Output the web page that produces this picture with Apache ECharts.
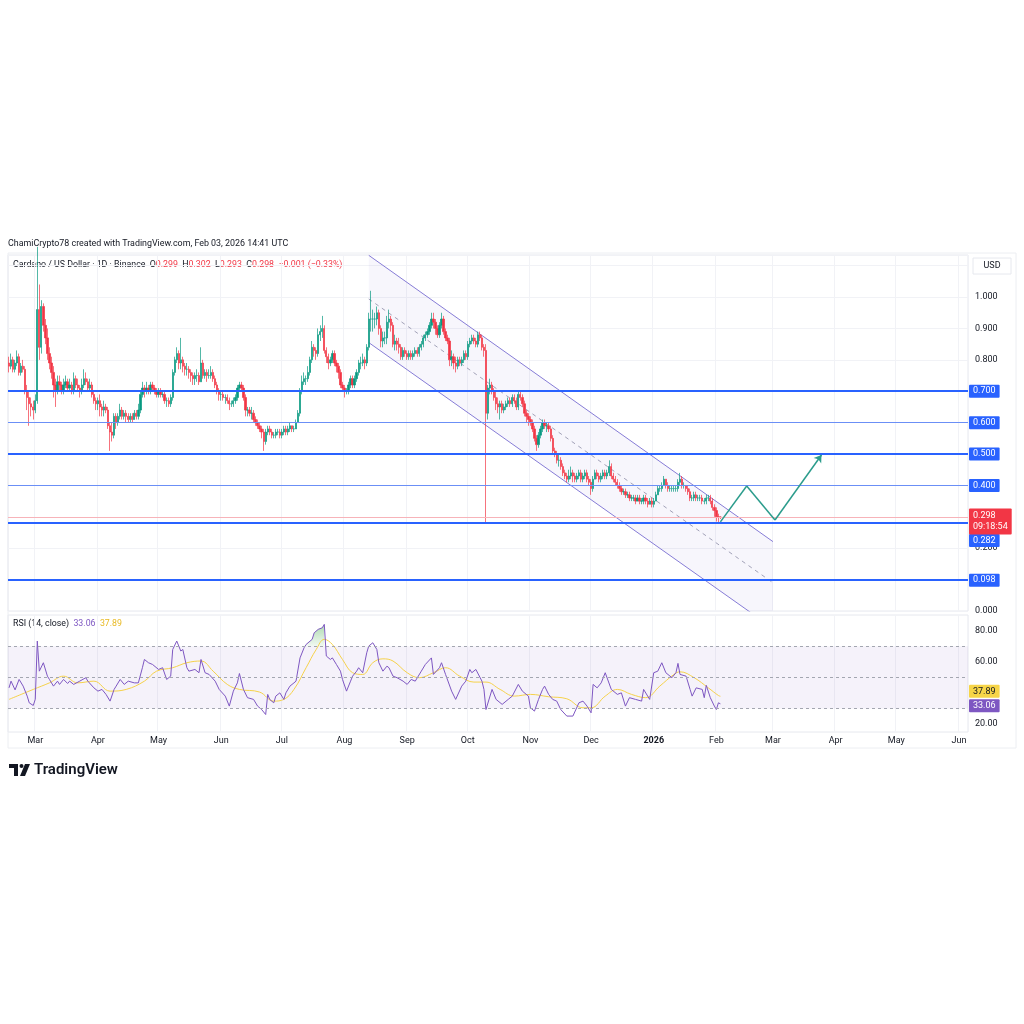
<!DOCTYPE html>
<html>
<head>
<meta charset="utf-8">
<title>Cardano / US Dollar · 1D · Binance</title>
<script src="https://cdn.jsdelivr.net/npm/echarts@6/dist/echarts.min.js"></script>
<style>
html, body { margin: 0; padding: 0; background: #fff; }
#chart { width: 1024px; height: 1024px; }
</style>
</head>
<body>
<div id="chart"></div>
<script>
// daily candles from 2025-02-16, open = previous close (24h market)
var firstOpen = 0.79;
var closes = [
  0.78,0.80,0.77,0.79,0.81,0.76,0.78,0.77,0.70,0.68,0.66,0.65,0.64, // feb
  0.67,0.96,0.84,0.97,0.91,0.87,0.82,0.79,0.76,0.72,0.70,0.73,0.72,0.70,0.72,0.73,0.71,0.72,0.70,0.74,0.72,0.71,0.70,0.72,0.74,0.73,0.71,0.72,0.69,0.67,0.66, // mar
  0.67,0.65,0.64,0.65,0.64,0.59,0.57,0.56,0.62,0.60,0.62,0.64,0.62,0.63,0.62,0.61,0.62,0.61,0.63,0.62,0.64,0.69,0.71,0.70,0.71,0.70,0.72,0.71,0.70,0.69, // apr
  0.70,0.69,0.69,0.67,0.67,0.66,0.68,0.76,0.80,0.82,0.79,0.80,0.78,0.77,0.77,0.76,0.75,0.74,0.75,0.75,0.73,0.79,0.75,0.76,0.75,0.75,0.76,0.74,0.72,0.70,0.69, // may
  0.69,0.68,0.68,0.67,0.66,0.66,0.67,0.68,0.71,0.72,0.71,0.68,0.64,0.64,0.63,0.63,0.61,0.60,0.59,0.58,0.57,0.54,0.57,0.58,0.57,0.56,0.56,0.57,0.57,0.56, // jun
  0.57,0.58,0.57,0.58,0.59,0.58,0.58,0.60,0.63,0.70,0.73,0.74,0.74,0.76,0.80,0.84,0.83,0.82,0.88,0.89,0.90,0.83,0.81,0.79,0.80,0.82,0.79,0.78,0.76,0.72,0.71, // jul
  0.70,0.70,0.72,0.74,0.72,0.74,0.76,0.79,0.79,0.80,0.79,0.84,0.93,0.93,0.93,0.93,0.95,0.90,0.86,0.87,0.87,0.92,0.93,0.91,0.85,0.86,0.85,0.84,0.81,0.83,0.82, // aug
  0.81,0.82,0.81,0.82,0.83,0.82,0.84,0.85,0.87,0.88,0.89,0.91,0.93,0.92,0.90,0.88,0.91,0.93,0.89,0.87,0.86,0.80,0.81,0.79,0.78,0.80,0.79,0.80,0.82,0.81, // sep
  0.85,0.86,0.87,0.86,0.85,0.88,0.87,0.84,0.83,0.63,0.71,0.72,0.70,0.68,0.66,0.65,0.66,0.64,0.65,0.66,0.67,0.66,0.68,0.67,0.65,0.69,0.68,0.66,0.63,0.62,0.61, // oct
  0.60,0.58,0.55,0.53,0.56,0.58,0.60,0.59,0.59,0.58,0.55,0.51,0.50,0.48,0.48,0.46,0.44,0.43,0.42,0.43,0.44,0.43,0.42,0.43,0.44,0.42,0.43,0.44,0.42,0.41, // nov
  0.39,0.42,0.44,0.43,0.42,0.43,0.44,0.43,0.44,0.46,0.43,0.42,0.41,0.40,0.39,0.38,0.38,0.37,0.37,0.36,0.36,0.36,0.35,0.36,0.35,0.35,0.36,0.35,0.34,0.35,0.34, // dec
  0.35,0.37,0.39,0.39,0.40,0.42,0.40,0.39,0.39,0.39,0.39,0.39,0.41,0.42,0.40,0.40,0.39,0.38,0.36,0.36,0.37,0.36,0.36,0.36,0.35,0.35,0.36,0.36,0.35,0.33,0.32, // jan
  0.300,0.299,0.298 // feb
];
var highs = [
  0.81,0.82,0.81,0.80,0.83,0.82,0.79,0.80,0.78,0.72,0.70,0.68,0.67,
  0.69,1.16,1.04,0.99,0.98,0.93,0.90,0.84,0.81,0.78,0.74,0.75,0.75,0.73,0.74,0.75,0.74,0.74,0.73,0.76,0.75,0.74,0.72,0.74,0.77,0.76,0.74,0.74,0.73,0.70,0.68,
  0.68,0.69,0.66,0.67,0.66,0.65,0.60,0.60,0.63,0.63,0.63,0.66,0.65,0.64,0.64,0.63,0.63,0.63,0.64,0.64,0.66,0.70,0.73,0.72,0.73,0.72,0.73,0.73,0.72,0.71,
  0.71,0.71,0.70,0.70,0.68,0.68,0.69,0.77,0.81,0.84,0.83,0.87,0.81,0.79,0.79,0.78,0.77,0.76,0.76,0.77,0.76,0.84,0.80,0.77,0.77,0.77,0.78,0.77,0.75,0.73,0.71,
  0.70,0.70,0.69,0.69,0.68,0.67,0.68,0.69,0.72,0.73,0.73,0.72,0.69,0.65,0.65,0.65,0.64,0.62,0.61,0.60,0.59,0.58,0.58,0.59,0.59,0.58,0.57,0.58,0.58,0.58,
  0.58,0.59,0.59,0.59,0.60,0.59,0.59,0.61,0.64,0.71,0.75,0.76,0.75,0.78,0.81,0.86,0.85,0.84,0.90,0.91,0.94,0.91,0.84,0.82,0.81,0.83,0.83,0.80,0.79,0.77,0.73,
  0.72,0.71,0.73,0.75,0.75,0.75,0.77,0.80,0.81,0.82,0.81,0.85,0.95,1.02,0.96,0.95,0.97,0.96,0.91,0.89,0.89,0.94,0.96,0.94,0.92,0.88,0.87,0.87,0.85,0.84,0.84,
  0.83,0.83,0.83,0.83,0.84,0.84,0.85,0.86,0.88,0.89,0.90,0.92,0.95,0.95,0.93,0.91,0.92,0.95,0.94,0.90,0.88,0.87,0.83,0.82,0.81,0.81,0.81,0.81,0.83,0.83,
  0.86,0.87,0.88,0.88,0.87,0.89,0.89,0.88,0.85,0.85,0.72,0.74,0.73,0.71,0.70,0.68,0.67,0.67,0.66,0.67,0.68,0.68,0.69,0.69,0.68,0.70,0.70,0.69,0.67,0.64,0.63,
  0.62,0.61,0.59,0.56,0.57,0.59,0.61,0.61,0.60,0.60,0.59,0.56,0.52,0.51,0.50,0.49,0.47,0.45,0.44,0.45,0.46,0.45,0.44,0.44,0.45,0.45,0.44,0.45,0.45,0.43,
  0.42,0.43,0.45,0.45,0.44,0.44,0.45,0.45,0.45,0.48,0.47,0.44,0.43,0.42,0.41,0.40,0.39,0.39,0.38,0.38,0.37,0.37,0.37,0.37,0.37,0.36,0.37,0.37,0.36,0.36,0.36,
  0.36,0.38,0.40,0.40,0.41,0.43,0.42,0.41,0.40,0.40,0.40,0.40,0.42,0.44,0.43,0.41,0.40,0.40,0.39,0.37,0.38,0.38,0.37,0.37,0.37,0.36,0.37,0.37,0.37,0.36,0.34,
  0.33,0.31,0.302
];
var lows = [
  0.76,0.77,0.76,0.76,0.78,0.75,0.75,0.76,0.69,0.64,0.59,0.62,0.61,
  0.63,0.66,0.80,0.82,0.89,0.85,0.80,0.77,0.74,0.68,0.65,0.69,0.70,0.69,0.69,0.71,0.70,0.70,0.69,0.69,0.71,0.70,0.68,0.69,0.71,0.72,0.70,0.70,0.68,0.66,0.64,
  0.64,0.62,0.62,0.62,0.63,0.58,0.51,0.54,0.55,0.58,0.59,0.61,0.61,0.61,0.60,0.60,0.60,0.60,0.61,0.61,0.61,0.63,0.68,0.68,0.69,0.69,0.69,0.70,0.69,0.68,
  0.68,0.68,0.68,0.66,0.65,0.65,0.65,0.67,0.75,0.79,0.77,0.77,0.76,0.75,0.75,0.74,0.73,0.72,0.72,0.73,0.72,0.73,0.74,0.74,0.73,0.74,0.74,0.73,0.71,0.69,0.67,
  0.67,0.67,0.66,0.66,0.64,0.65,0.65,0.66,0.67,0.70,0.70,0.67,0.62,0.62,0.62,0.61,0.60,0.59,0.58,0.57,0.55,0.51,0.53,0.56,0.56,0.55,0.55,0.55,0.56,0.55,
  0.55,0.56,0.56,0.56,0.57,0.57,0.57,0.58,0.60,0.62,0.69,0.72,0.72,0.73,0.75,0.79,0.81,0.80,0.81,0.86,0.87,0.82,0.79,0.77,0.78,0.79,0.78,0.76,0.74,0.71,0.70,
  0.68,0.69,0.69,0.71,0.71,0.71,0.73,0.75,0.77,0.78,0.77,0.78,0.83,0.89,0.89,0.90,0.91,0.88,0.84,0.84,0.85,0.85,0.90,0.89,0.84,0.83,0.83,0.82,0.80,0.80,0.81,
  0.80,0.80,0.80,0.80,0.81,0.81,0.81,0.83,0.84,0.86,0.87,0.88,0.90,0.90,0.88,0.87,0.87,0.90,0.88,0.86,0.85,0.78,0.78,0.77,0.76,0.77,0.78,0.78,0.79,0.80,
  0.80,0.84,0.85,0.85,0.84,0.84,0.86,0.83,0.81,0.28,0.61,0.69,0.69,0.67,0.64,0.63,0.61,0.63,0.63,0.64,0.65,0.65,0.65,0.66,0.64,0.64,0.67,0.65,0.62,0.60,0.59,
  0.59,0.57,0.54,0.51,0.52,0.55,0.57,0.58,0.57,0.57,0.54,0.50,0.49,0.47,0.46,0.45,0.43,0.42,0.41,0.41,0.42,0.41,0.41,0.41,0.42,0.41,0.41,0.42,0.41,0.40,
  0.37,0.38,0.42,0.42,0.41,0.41,0.42,0.42,0.42,0.43,0.42,0.41,0.40,0.39,0.38,0.37,0.37,0.36,0.36,0.35,0.35,0.35,0.34,0.35,0.34,0.34,0.34,0.34,0.33,0.34,0.33,
  0.33,0.35,0.37,0.38,0.38,0.40,0.39,0.38,0.38,0.38,0.38,0.38,0.38,0.40,0.39,0.39,0.38,0.37,0.35,0.35,0.35,0.35,0.35,0.35,0.34,0.34,0.34,0.35,0.34,0.32,0.30,
  0.285,0.282,0.293
];

var rsiDay = [0,1,3,5,7,9,10,12,13,14,15,17,19,20,22,24,25,27,29,30,32,35,38,39,42,44,46,48,50,52,53,55,57,59,62,64,66,67,69,71,74,76,78,80,81,83,85,86,88,89,92,94,95,97,99,102,104,107,109,111,113,114,116,118,121,123,125,127,128,129,131,132,134,136,137,139,141,142,144,146,147,150,151,153,155,156,157,159,160,162,164,165,167,169,170,172,173,175,177,178,180,182,183,185,187,188,190,192,195,197,199,201,204,206,209,210,213,214,216,219,221,224,226,228,229,231,234,235,236,239,241,244,247,249,252,254,257,258,260,262,264,265,267,269,271,273,276,279,282,284,286,288,289,291,293,295,298,301,303,305,307,310,313,314,317,319,321,323,325,328,330,331,332,335,337,338,340,343,344,345,347,349,350,351,352];
var rsiValue = [43.3,47.6,42.0,48.7,44.4,38.0,33.7,32.0,36.0,73.3,54.0,59.4,50.8,48.7,44.4,47.6,45.5,48.7,46.1,47.6,45.5,47.6,49.8,47.6,43.3,41.2,42.3,39.1,34.8,42.3,44.4,48.7,45.5,47.6,46.5,46.5,56.2,61.5,59.4,58.3,55.1,56.2,48.7,50.8,67.9,73.3,66.9,67.9,56.2,54.0,55.1,53.0,61.5,53.0,51.9,47.6,42.3,38.0,31.6,41.2,46.5,52.5,42.3,37.0,35.9,31.6,29.4,26.2,39.1,35.9,33.7,38.0,40.1,35.9,40.1,44.4,46.5,47.6,62.5,69.0,71.1,74.4,78.6,80.8,81.8,84.0,63.7,61.5,62.5,58.3,54.0,48.7,41.2,47.6,50.8,54.0,56.2,53.0,65.8,70.1,72.2,67.9,59.4,54.0,57.2,56.2,50.8,49.8,47.6,45.5,48.7,47.6,54.0,58.3,62.5,51.9,56.2,59.4,51.9,41.2,35.9,44.4,47.6,55.1,53.0,55.1,47.6,42.3,29.4,42.3,35.9,32.7,35.9,38.0,45.5,41.2,38.0,30.5,28.4,35.9,42.3,44.4,39.1,35.9,34.8,29.4,25.2,25.2,33.7,34.8,31.6,27.3,45.5,43.3,46.5,53.0,42.3,39.1,40.1,31.6,37.0,35.9,34.8,42.3,35.9,53.0,54.0,59.4,53.0,49.8,53.0,59.0,51.9,50.8,42.3,38.0,43.3,42.3,37.0,44.9,37.0,31.6,29.4,33.7,33.06];
var maDay = [0,6,12,20,27,34,42,50,58,67,73,81,88,95,101,108,114,124,131,136,141,147,152,156,160,165,170,175,180,185,190,197,203,210,216,223,230,236,243,250,258,267,276,284,288,295,301,308,315,322,329,332,339,346,351,352];
var maValue = [35.9,39.1,42.3,46.5,50.8,46.5,47.6,41.2,42.3,47.6,54.0,56.2,59.4,60.5,54.0,45.5,42.3,40.6,34.8,35.9,42.3,56.2,67.9,74.4,71.1,61.5,53.0,51.9,59.4,61.9,60.5,53.0,49.8,53.0,56.2,50.8,47.0,47.0,42.3,38.0,39.1,37.6,36.3,30.5,30.5,38.0,42.3,39.1,37.0,44.4,51.9,53.6,49.8,43.3,38.4,37.89];

// drawings on the price pane
var majorLevels = [0.7, 0.5, 0.282, 0.098];
var minorLevels = [0.6, 0.4];
var lastPrice = 0.298;
var countdown = '09:18:54';
var channelDay = [178, 378];
var channelUpper = [1.133, 0.221];
var channelMid = [0.994, 0.090];
var channelLower = [0.855, -0.055];
var projDay = [352, 365, 379, 402];
var projPrice = [0.284, 0.398, 0.290, 0.497];
var rsiLevels = [70, 50, 30];
var rsiLast = 33.06, maLast = 37.89;

var monthNames = ['Jan','Feb','Mar','Apr','May','Jun','Jul','Aug','Sep','Oct','Nov','Dec'];
var dayCount = 475;
var dates = [];
var t0 = Date.UTC(2025, 1, 16);
for (var i = 0; i < dayCount; i++) {
  dates.push(new Date(t0 + i * 86400000).toISOString().slice(0, 10));
}

var candles = [];
var prev = firstOpen;
for (var i = 0; i < closes.length; i++) {
  var o = prev, c = closes[i];
  candles.push([o, c, Math.min(lows[i], o, c), Math.max(highs[i], o, c)]);
  prev = c;
}

// overbought stretch of the RSI, filled down to the 70 line
var obData = [];
rsiDay.forEach(function (d, k) {
  if (d >= 146 && d <= 156) obData.push([dates[d], rsiValue[k]]);
});

var UP = '#089981', DOWN = '#f23645', BLUE = '#2962ff';
var FONT = 'Roboto, "Noto Sans", sans-serif';
var isMonthStart = function (idx, val) { return val.slice(8) === '01'; };

function badge(bg, fg) {
  return { show: true, position: 'end', distance: 1, backgroundColor: bg, color: fg,
    padding: [2, 4, 2, 4], fontSize: 9, fontFamily: FONT, borderRadius: 1 };
}

var priceMarks = [];
majorLevels.forEach(function (v) {
  var lab = badge(BLUE, '#fff');
  lab.formatter = v.toFixed(3);
  if (v === 0.282) lab.offset = [0, 18];
  priceMarks.push({ yAxis: v, lineStyle: { color: BLUE, width: 2, type: 'solid' }, label: lab });
});
minorLevels.forEach(function (v) {
  var lab = badge(BLUE, '#fff');
  lab.formatter = v.toFixed(3);
  priceMarks.push({ yAxis: v, lineStyle: { color: '#6b8ff6', width: 1, type: 'solid' }, label: lab });
});
var lastLab = badge(DOWN, '#fff');
lastLab.formatter = lastPrice.toFixed(3) + '\n' + countdown;
lastLab.lineHeight = 11;
lastLab.offset = [0, 4];
priceMarks.push({ yAxis: lastPrice, lineStyle: { color: '#f7b3b9', width: 1, type: 'solid' }, label: lastLab });
for (var k = 0; k < projDay.length - 1; k++) {
  priceMarks.push([
    { coord: [dates[projDay[k]], projPrice[k]], symbol: 'none' },
    { coord: [dates[projDay[k + 1]], projPrice[k + 1]], symbol: k === projDay.length - 2 ? 'arrow' : 'none', symbolSize: 7,
      lineStyle: { color: '#2b9c8c', width: 1.5, type: 'solid' }, label: { show: false } }
  ]);
}

var rsiMarks = rsiLevels.map(function (v) {
  return { yAxis: v, lineStyle: { color: '#a3a6b0', width: 1, type: [3, 3] }, label: { show: false } };
});

var badgeMarks = [];
var maLab = badge('#f7d548', '#131722');
maLab.formatter = maLast.toFixed(2);
maLab.offset = [0, -5];
badgeMarks.push({ yAxis: maLast, lineStyle: { color: 'rgba(0,0,0,0)', width: 0 }, label: maLab });
var rsiLab = badge('#7e57c2', '#fff');
rsiLab.formatter = rsiLast.toFixed(2);
rsiLab.offset = [0, 2];
badgeMarks.push({ yAxis: rsiLast, lineStyle: { color: 'rgba(0,0,0,0)', width: 0 }, label: rsiLab });

function twoPoints(a, b) {
  return [[dates[channelDay[0]], a], [dates[channelDay[1]], b]];
}

var chart = echarts.init(document.getElementById('chart'), null, { renderer: 'canvas' });
chart.setOption({
  animation: false,
  backgroundColor: '#fff',
  textStyle: { fontFamily: FONT },
  grid: [
    { left: 8, right: 56, top: 255, height: 356, show: true, borderColor: '#e6e8ee', borderWidth: 1 },
    { left: 8, right: 56, top: 615, height: 117, show: true, borderColor: '#e6e8ee', borderWidth: 1 }
  ],
  xAxis: [
    { type: 'category', gridIndex: 0, data: dates, boundaryGap: true,
      axisLine: { show: false }, axisTick: { show: false }, axisLabel: { show: false },
      splitLine: { show: true, interval: isMonthStart, lineStyle: { color: '#f1f2f6' } } },
    { type: 'category', gridIndex: 1, data: dates, boundaryGap: true,
      axisLine: { show: false }, axisTick: { show: false },
      splitLine: { show: true, interval: isMonthStart, lineStyle: { color: '#f1f2f6' } },
      axisLabel: { interval: isMonthStart, margin: 4, fontSize: 9, color: '#131722',
        formatter: function (v) {
          var m = +v.slice(5, 7);
          return m === 1 ? '{y|' + v.slice(0, 4) + '}' : monthNames[m - 1];
        },
        rich: { y: { fontWeight: 'bold', fontSize: 9, color: '#131722' } } } }
  ],
  yAxis: [
    { type: 'value', gridIndex: 0, position: 'right', min: 0, max: 1.134, interval: 0.1,
      axisLine: { show: false }, axisTick: { show: false },
      splitLine: { show: true, lineStyle: { color: '#f1f2f6' } },
      axisLabel: { margin: 7, fontSize: 9, color: '#131722', showMaxLabel: false,
        formatter: function (v) {
          var t = Math.round(v * 10);
          return [0, 2, 8, 9, 10].indexOf(t) >= 0 ? (t / 10).toFixed(3) : '';
        } } },
    { type: 'value', gridIndex: 1, position: 'right', min: 15, max: 90, interval: 5,
      axisLine: { show: false }, axisTick: { show: false }, splitLine: { show: false },
      axisLabel: { margin: 7, fontSize: 9, color: '#131722', showMaxLabel: false,
        formatter: function (v) { return [20, 60, 80].indexOf(v) >= 0 ? v.toFixed(2) : ''; } } }
  ],
  series: [
    { type: 'custom', xAxisIndex: 0, yAxisIndex: 0, clip: true, silent: true, z: 1,
      data: [[channelDay[0], 0]],
      renderItem: function (params, api) {
        var pts = [
          api.coord([channelDay[0], channelUpper[0]]), api.coord([channelDay[1], channelUpper[1]]),
          api.coord([channelDay[1], channelLower[1]]), api.coord([channelDay[0], channelLower[0]])
        ];
        return { type: 'polygon', shape: { points: pts }, style: { fill: 'rgba(120,110,210,0.06)' } };
      } },
    { type: 'line', xAxisIndex: 0, yAxisIndex: 0, data: twoPoints(channelUpper[0], channelUpper[1]),
      symbol: 'none', silent: true, z: 2, lineStyle: { color: '#867cd6', width: 1 } },
    { type: 'line', xAxisIndex: 0, yAxisIndex: 0, data: twoPoints(channelLower[0], channelLower[1]),
      symbol: 'none', silent: true, z: 2, lineStyle: { color: '#867cd6', width: 1 } },
    { type: 'line', xAxisIndex: 0, yAxisIndex: 0, data: twoPoints(channelMid[0], channelMid[1]),
      symbol: 'none', silent: true, z: 2, lineStyle: { color: '#a2a2b8', width: 1, type: [4, 4] } },
    { type: 'candlestick', xAxisIndex: 0, yAxisIndex: 0, data: candles, barWidth: 1.8, z: 3,
      large: false, progressive: 0,
      itemStyle: { color: UP, color0: DOWN, borderColor: UP, borderColor0: DOWN, borderWidth: 0.7 },
      markLine: { silent: true, symbol: ['none', 'none'], precision: 3, data: priceMarks } },
    { type: 'line', xAxisIndex: 1, yAxisIndex: 1, symbol: 'none', silent: true, z: 1,
      data: obData, lineStyle: { width: 0 },
      areaStyle: { origin: 70, opacity: 1,
        color: new echarts.graphic.LinearGradient(0, 0, 0, 1, [
          { offset: 0, color: 'rgba(76,175,80,0.45)' }, { offset: 1, color: 'rgba(76,175,80,0.05)' }]) } },
    { type: 'line', xAxisIndex: 1, yAxisIndex: 1, symbol: 'none', silent: true,
      data: maDay.map(function (d, k) { return [dates[d], maValue[k]]; }),
      smooth: 0.4, lineStyle: { color: '#f5d24a', width: 1 },
      markLine: { silent: true, symbol: ['none', 'none'], data: badgeMarks } },
    { type: 'line', xAxisIndex: 1, yAxisIndex: 1, symbol: 'none', silent: true,
      data: rsiDay.map(function (d, k) { return [dates[d], rsiValue[k]]; }),
      lineStyle: { color: '#7e57c2', width: 1 },
      markArea: { silent: true, itemStyle: { color: 'rgba(126,87,194,0.08)' },
        data: [[{ yAxis: rsiLevels[2] }, { yAxis: rsiLevels[0] }]] },
      markLine: { silent: true, symbol: ['none', 'none'], data: rsiMarks } }
  ],
  graphic: [
    { type: 'rect', shape: { x: 8, y: 253, width: 1008, height: 495 }, silent: true,
      style: { fill: 'none', stroke: '#eceef2', lineWidth: 1 } },
    { type: 'text', x: 8, y: 244, silent: true,
      style: { text: 'ChamiCrypto78 created with TradingView.com, Feb 03, 2026 14:41 UTC',
        fill: '#131722', font: '8.9px ' + FONT, textVerticalAlign: 'middle' } },
    { type: 'text', x: 13, y: 265, silent: true,
      style: { text: 'Cardano / US Dollar · 1D · Binance  O{r|0.299}  H{r|0.302}  L{r|0.293}  C{r|0.298}  {r|−0.001 (−0.33%)}',
        fill: '#131722', font: '8.8px ' + FONT, textVerticalAlign: 'middle',
        rich: { r: { fill: DOWN, font: '8.8px ' + FONT } } } },
    { type: 'rect', shape: { x: 973, y: 258, width: 38, height: 16 }, silent: true,
      style: { fill: '#fff', stroke: '#e6e8ee', lineWidth: 1 } },
    { type: 'text', x: 992, y: 266, silent: true,
      style: { text: 'USD', fill: '#131722', font: '9px ' + FONT, textAlign: 'center', textVerticalAlign: 'middle' } },
    { type: 'text', x: 13, y: 624, silent: true,
      style: { text: 'RSI (14, close)  {p|33.06}  {y|37.89}', fill: '#131722', font: '8.8px ' + FONT,
        textVerticalAlign: 'middle',
        rich: { p: { fill: '#7e57c2', font: '8.8px ' + FONT }, y: { fill: '#e8b923', font: '8.8px ' + FONT } } } },
    { type: 'polygon', silent: true,
      shape: { points: [[9, 764], [18, 764], [18, 776], [14, 776], [14, 768], [9, 768]] },
      style: { fill: '#131722' } },
    { type: 'circle', silent: true, shape: { cx: 21.5, cy: 766, r: 2 }, style: { fill: '#131722' } },
    { type: 'polygon', silent: true,
      shape: { points: [[25, 764], [30, 764], [25, 776], [20, 776]] },
      style: { fill: '#131722' } },
    { type: 'text', x: 34, y: 770, silent: true,
      style: { text: 'TradingView', fill: '#131722', font: '600 15px ' + FONT, textVerticalAlign: 'middle' } }
  ]
});
</script>
</body>
</html>
